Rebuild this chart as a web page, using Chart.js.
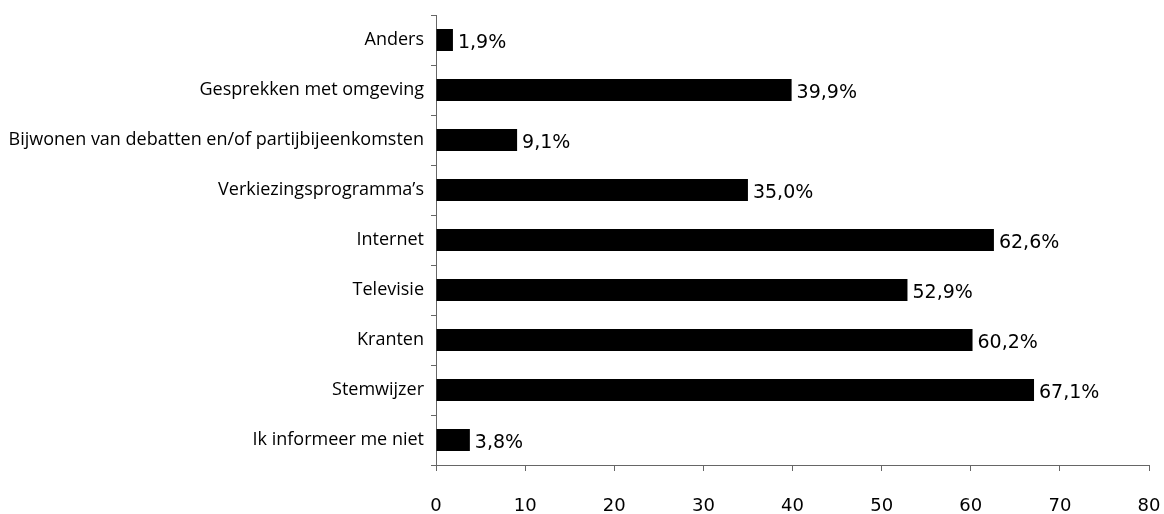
<!DOCTYPE html>
<html>
<head>
<meta charset="utf-8">
<script src="https://cdn.jsdelivr.net/npm/chart.js@4/dist/chart.umd.min.js"></script>
<style>
  html, body { margin: 0; padding: 0; background: #fff; }
  #wrap { width: 1164px; height: 514px; }
</style>
</head>
<body>
<div id="wrap"><canvas id="myChart"></canvas></div>
<script>
var categories = [
    "Anders",
    "Gesprekken met omgeving",
    "Bijwonen van debatten en/of partijbijeenkomsten",
    "Verkiezingsprogramma\u2019s",
    "Internet",
    "Televisie",
    "Kranten",
    "Stemwijzer",
    "Ik informeer me niet"
];
var percentages = [1.9, 39.9, 9.1, 35.0, 62.6, 52.9, 60.2, 67.1, 3.8];
var xTicks = [0, 10, 20, 30, 40, 50, 60, 70, 80];

var labelFont = "'Open Sans', 'Noto Sans', sans-serif";
var numberFont = "'DejaVu Sans', sans-serif";

// draws the "39,9%" labels at the end of each bar
var valueLabels = {
    id: "valueLabels",
    afterDatasetsDraw: function (chart) {
        var ctx = chart.ctx;
        var meta = chart.getDatasetMeta(0);
        ctx.save();
        ctx.fillStyle = "#000";
        ctx.font = "19px " + numberFont;
        ctx.textAlign = "left";
        ctx.textBaseline = "middle";
        meta.data.forEach(function (bar, i) {
            var txt = percentages[i].toFixed(1).replace(".", ",") + "%";
            ctx.fillText(txt, bar.x + 5, bar.y + 3);
        });
        ctx.restore();
    }
};

new Chart("myChart", {
    type: "bar",
    data: {
        labels: categories,
        datasets: [{
            data: percentages,
            backgroundColor: "#000",
            borderWidth: 0,
            barPercentage: 0.44,
            categoryPercentage: 1
        }]
    },
    options: {
        indexAxis: "y",
        responsive: true,
        maintainAspectRatio: false,
        animation: false,
        layout: { padding: { top: 15, right: 15, bottom: 0, left: 0 } },
        plugins: {
            legend: { display: false },
            tooltip: { enabled: false }
        },
        scales: {
            x: {
                min: 0,
                max: 80,
                afterBuildTicks: function (axis) {
                    axis.ticks = xTicks.map(function (v) { return { value: v }; });
                },
                afterFit: function (axis) {
                    axis.height = 49;
                    axis.paddingLeft = 0;
                    axis.paddingRight = 0;
                },
                border: { color: "#666", width: 1 },
                grid: { drawOnChartArea: false, drawTicks: true, tickLength: 6, color: "#666" },
                ticks: {
                    color: "#000",
                    padding: 25,
                    maxRotation: 0,
                    font: { family: numberFont, size: 18 }
                }
            },
            y: {
                afterFit: function (axis) {
                    axis.width = 436;
                    axis.paddingTop = 0;
                    axis.paddingBottom = 0;
                },
                border: { color: "#666", width: 1 },
                grid: { drawOnChartArea: false, drawTicks: true, tickLength: 5, color: "#666", offset: true },
                ticks: {
                    color: "#000",
                    padding: 7,
                    font: { family: labelFont, size: 18 }
                }
            }
        }
    },
    plugins: [valueLabels]
});
</script>
</body>
</html>
